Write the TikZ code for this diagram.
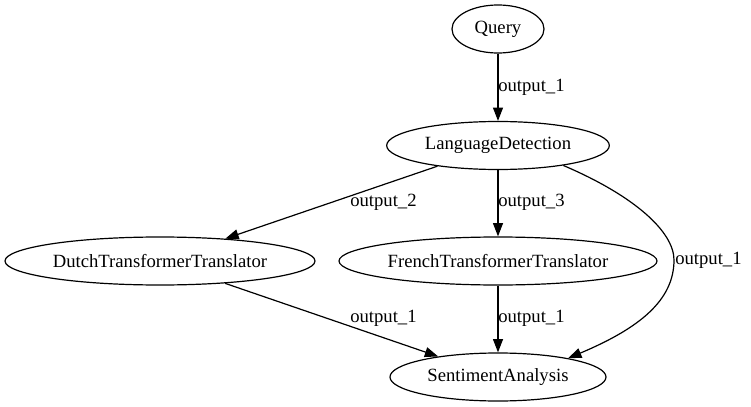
\documentclass[tikz,border=0pt]{standalone}
\usepackage{fontspec}
\setmainfont{Liberation Serif}
\usetikzlibrary{shapes.geometric,arrows.meta}
\begin{document}
\begin{tikzpicture}[x=0.75pt,y=-0.75pt,
  every node/.style={font=\fontsize{14pt}{16pt}\selectfont},
  nd/.style={ellipse,draw,line width=0.9pt,inner sep=0pt,minimum height=36pt},
  lbl/.style={anchor=west,inner sep=0pt},
  edge/.style={line width=0.9pt,-{Triangle[length=10pt,width=7.5pt]}}]
\useasboundingbox (0,0) rectangle (751,407);
\node[nd,minimum width=69pt] (q) at (498,29) {Query};
\node[nd,minimum width=167pt] (ld) at (498,145.5) {LanguageDetection};
\node[nd,minimum width=232.5pt] (du) at (160,261) {DutchTransformerTranslator};
\node[nd,minimum width=238.5pt] (fr) at (498,261) {FrenchTransformerTranslator};
\node[nd,minimum width=162pt] (sa) at (498,377) {SentimentAnalysis};
\coordinate (bend) at (674,260);
\draw[edge] (q) -- (ld);
\draw[edge] (ld) -- (du);
\draw[edge] (ld) -- (fr);
\draw[edge] (ld.-17) .. controls (635,196) and (674,232) .. (bend)
  .. controls (674,300) and (640,328) .. (sa.15);
\draw[edge] (du) -- (sa);
\draw[edge] (fr) -- (sa);
\node[lbl] (l1) at (498,87) {output\_1};
\node[lbl] (l2) at (350,202.5) {output\_2};
\node[lbl] (l3) at (498,202.5) {output\_3};
\node[lbl] (l4) at (675,260) {output\_1};
\node[lbl] (l5) at (350,318) {output\_1};
\node[lbl] (l6) at (498,318) {output\_1};
\end{tikzpicture}
\end{document}
